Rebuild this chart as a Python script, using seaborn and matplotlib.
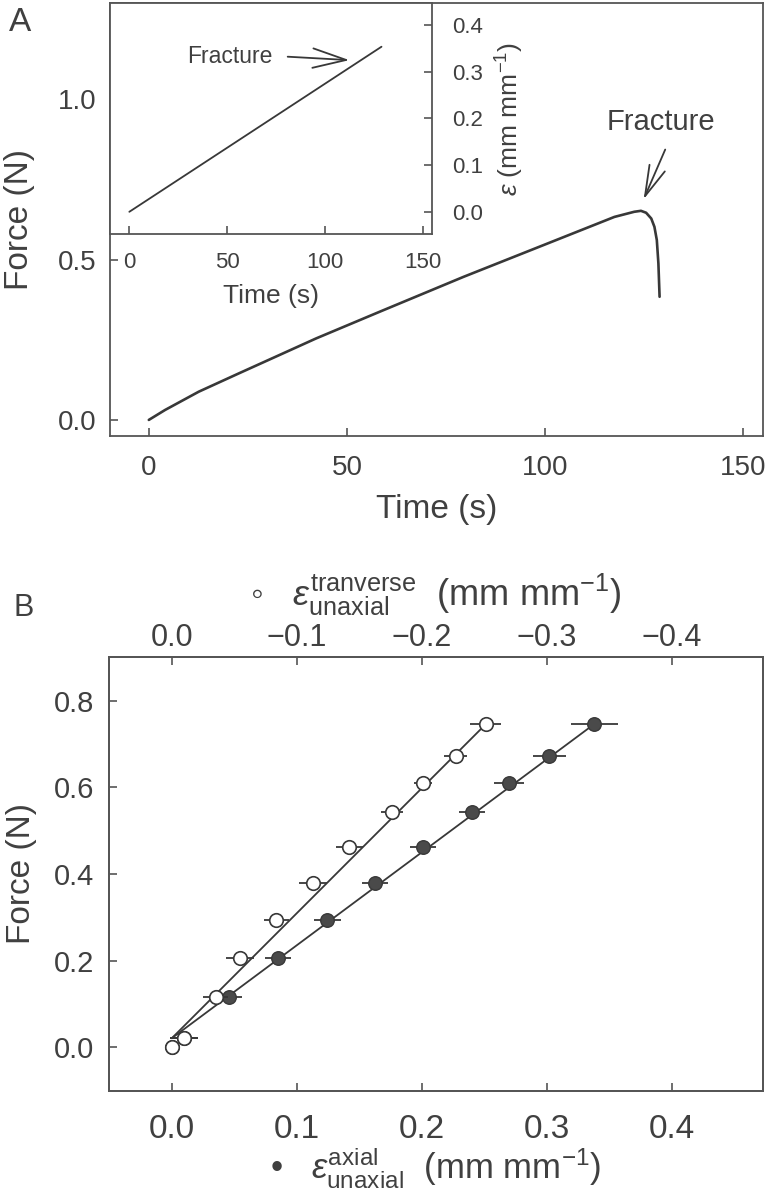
import matplotlib
matplotlib.use("Agg")
import matplotlib.pyplot as plt
from matplotlib import font_manager
import seaborn as sns

# Panel A: force during the tensile test, up to and past fracture
time_s = [0, 4.1, 12.6, 22.7, 32.9, 42.2, 58.2, 79.4, 100.6, 117.5, 122.5, 124.2,
          125.5, 126.8, 127.6, 128.2, 128.6, 128.9]
force_n = [0, 0.031, 0.088, 0.145, 0.202, 0.254, 0.337, 0.446, 0.550, 0.633, 0.649, 0.652,
           0.646, 0.628, 0.602, 0.561, 0.488, 0.384]

# Inset: strain against time
inset_time_s = [0, 129]
inset_strain = [0.0, 0.353]

# Panel B: force against axial / transverse strain (mean +- error)
force_b = [0, 0.021, 0.115, 0.207, 0.294, 0.379, 0.463, 0.544, 0.611, 0.671, 0.746]
strain_axial = [0, 0.0098, 0.0459, 0.085, 0.1245, 0.1624, 0.201, 0.240, 0.270, 0.302, 0.338]
strain_axial_err = [0, 0.011, 0.010, 0.0105, 0.0105, 0.0105, 0.0105, 0.0105, 0.012, 0.013, 0.019]
strain_trans = [0, -0.0098, -0.035, -0.0544, -0.0837, -0.113, -0.142, -0.176, -0.201, -0.227, -0.251]
strain_trans_err = [0, 0.011, 0.010, 0.011, 0.010, 0.011, 0.011, 0.009, 0.007, 0.009, 0.0125]

# fitted lines (end points)
fit_axial_x = [0.0, 0.338]
fit_axial_y = [0.021, 0.746]
fit_trans_x = [0.0, -0.252]
fit_trans_y = [0.021, 0.748]

# tick labels
a_xticks = [0, 50, 100, 150]
a_yticks = [0.0, 0.5, 1.0]
in_yticks = [0.0, 0.1, 0.2, 0.3, 0.4]
b_xticks = [0.0, 0.1, 0.2, 0.3, 0.4]
b_top_ticks = [0.0, -0.1, -0.2, -0.3, -0.4]
b_yticks = [0.0, 0.2, 0.4, 0.6, 0.8]

INK = "#383838"
TXT = "#404040"
SPINE = "#555555"

sns.set_theme(style="ticks")
names = {f.name for f in font_manager.fontManager.ttflist}
narrow = "Liberation Sans Narrow" if "Liberation Sans Narrow" in names else "Liberation Sans"
plt.rcParams["font.family"] = ["Liberation Sans", "DejaVu Sans"]
plt.rcParams.update({
    "mathtext.fontset": "custom",
    "mathtext.rm": narrow,
    "mathtext.it": narrow + ":italic",
    "text.color": TXT,
    "axes.labelcolor": TXT,
    "xtick.color": SPINE,
    "ytick.color": SPINE,
    "xtick.labelcolor": TXT,
    "ytick.labelcolor": TXT,
    "xtick.direction": "in",
    "ytick.direction": "in",
    "xtick.major.size": 6,
    "ytick.major.size": 6,
    "xtick.major.width": 1.2,
    "ytick.major.width": 1.2,
    "axes.edgecolor": SPINE,
    "axes.linewidth": 1.3,
})

fig = plt.figure(figsize=(7.68, 12), dpi=100)
axA = fig.add_axes([0.1432, 0.6367, 0.8503, 0.3608])
axIn = fig.add_axes([0.1432, 0.8048, 0.4197, 0.1925])
axB = fig.add_axes([0.1423, 0.0911, 0.851, 0.3612])
axT = axB.twiny()

# ---- panel A ----
sns.lineplot(x=time_s, y=force_n, ax=axA, color=INK, linewidth=1.9, sort=False, estimator=None)
axA.set_xlim(-9.8, 155)
axA.set_ylim(-0.05, 1.3)
axA.set_xticks(a_xticks)
axA.set_xticklabels([str(t) for t in a_xticks])
axA.set_yticks(a_yticks)
axA.set_yticklabels(["0.0", "0.5", "1.0"])
axA.tick_params(axis="x", labelsize=20, pad=14)
axA.tick_params(axis="y", labelsize=20, pad=10)
axA.set_xlabel("Time (s)", fontsize=24, labelpad=9)
axA.set_ylabel("Force (N)", fontsize=24, labelpad=16)
axA.text(129.3, 0.93, "Fracture", fontsize=21, ha="center", va="center")
axA.annotate("", xy=(124.6, 0.68), xytext=(130.6, 0.851),
             arrowprops=dict(arrowstyle="->,head_length=1.1,head_width=0.3",
                             color=INK, lw=1.3, mutation_scale=20))
fig.text(0.012, 0.981, "A", fontsize=24, ha="left", va="center")

# ---- inset ----
sns.lineplot(x=inset_time_s, y=inset_strain, ax=axIn, color=INK, linewidth=1.3)
axIn.set_xlim(-9.9, 155)
axIn.set_ylim(-0.048, 0.446)
axIn.yaxis.tick_right()
axIn.yaxis.set_label_position("right")
axIn.set_xticks(a_xticks)
axIn.set_xticklabels([str(t) for t in a_xticks])
axIn.set_yticks(in_yticks)
axIn.set_yticklabels(["%.1f" % v for v in in_yticks])
axIn.tick_params(axis="x", labelsize=16, pad=13)
axIn.tick_params(axis="y", labelsize=16, pad=14)
axIn.set_xlabel("Time (s)", fontsize=19, labelpad=8)
axIn.set_ylabel(r"$\varepsilon$ (mm mm$^{−1}$)", fontsize=19, labelpad=8)
axIn.text(51.5, 0.332, "Fracture", fontsize=16.5, ha="center", va="center")
axIn.annotate("", xy=(114, 0.324), xytext=(79.6, 0.332),
              arrowprops=dict(arrowstyle="->,head_length=1.2,head_width=0.35",
                              color=INK, lw=1.3, mutation_scale=20))

# ---- panel B ----
axB.errorbar(strain_axial, force_b, xerr=strain_axial_err, fmt="none", ecolor=INK, elinewidth=1.3)
sns.lineplot(x=fit_axial_x, y=fit_axial_y, ax=axB, color=INK, linewidth=1.3)
sns.scatterplot(x=strain_axial, y=force_b, ax=axB, s=95, color="#4a4a4a",
                edgecolor=INK, linewidth=1.0, zorder=3)
axB.set_xlim(-0.05, 0.4728)
axB.set_ylim(-0.1, 0.9)
axB.set_xticks(b_xticks)
axB.set_xticklabels(["%.1f" % v for v in b_xticks], fontfamily=narrow)
axB.set_yticks(b_yticks)
axB.set_yticklabels(["%.1f" % v for v in b_yticks])
axB.tick_params(axis="x", labelsize=24, pad=17)
axB.tick_params(axis="y", labelsize=21, pad=11)
axB.tick_params(right=False)
axB.set_ylabel("Force (N)", fontsize=24, labelpad=12)
axB.set_xlabel("•   " + r"$\varepsilon^{\mathrm{axial}}_{\mathrm{unaxial}}$" + "  (mm mm$^{−1}$)",
               fontsize=25, labelpad=0, fontfamily=[narrow, "DejaVu Sans"])

axT.errorbar(strain_trans, force_b, xerr=strain_trans_err, fmt="none", ecolor=INK, elinewidth=1.3)
sns.lineplot(x=fit_trans_x, y=fit_trans_y, ax=axT, color=INK, linewidth=1.3)
sns.scatterplot(x=strain_trans, y=force_b, ax=axT, s=95, color="white",
                edgecolor=INK, linewidth=1.2, zorder=3)
axT.set_xlim(0.05, -0.4728)
axT.set_xticks(b_top_ticks)
axT.set_xticklabels(["0.0", "−0.1", "−0.2", "−0.3", "−0.4"], fontfamily=narrow)
axT.tick_params(axis="x", labelsize=22, pad=3)
axT.set_xlabel("◦   " + r"$\varepsilon^{\mathrm{tranverse}}_{\mathrm{unaxial}}$" + "  (mm mm$^{−1}$)",
               fontsize=26, labelpad=12, fontfamily=[narrow, "DejaVu Sans"])
fig.text(0.018, 0.493, "B", fontsize=22, ha="left", va="center", fontfamily=narrow)

fig.savefig("out.png", dpi=100)
